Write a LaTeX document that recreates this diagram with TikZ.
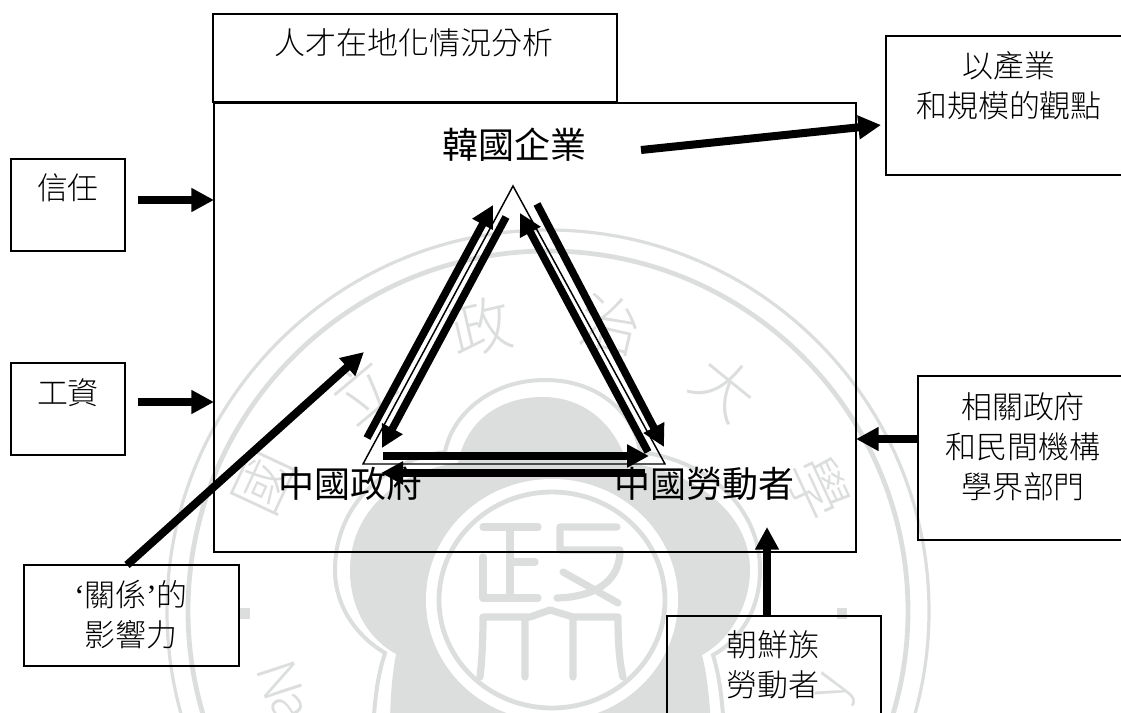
\documentclass[tikz,border=0pt]{standalone}
\usepackage{fontspec}
\usetikzlibrary{arrows.meta}
\newfontfamily\cjk[UprightFont=* Light,BoldFont=*]{Noto Sans CJK TC}
\newfontfamily\cjkbig{Noto Sans CJK TC}
\newfontfamily\latq{Liberation Serif}
\definecolor{wm}{HTML}{DCDEDD}
\tikzset{
  boxn/.style={draw=black,line width=1.2pt,inner sep=0pt,outer sep=0pt},
  lab/.style={inner sep=0pt,align=center,font=\cjk\fontsize{23.2pt}{30pt}\selectfont},
  biglab/.style={inner sep=0pt,font=\cjkbig\fontsize{27pt}{30pt}\selectfont},
  bigarrow/.style={line width=6pt,-{Triangle[length=17pt,width=17pt]}},
  triarrow/.style={line width=5.7pt,-{Triangle[length=16.5pt,width=16.5pt]}},
  wmtxt/.style={inner sep=0pt,text=wm,font=\cjk\fontsize{46pt}{46pt}\selectfont},
  wmlat/.style={inner sep=0pt,text=wm,font=\cjk\fontsize{40pt}{40pt}\selectfont},
  wmline/.style={draw=wm,line width=5.4pt,line cap=round,line join=round},
}
\newcommand\pxbox[5]{\node[boxn,minimum width={(#4-#2)*0.75pt},minimum height={(#5-#3)*0.75pt}] (#1) at ({(#2+#4)/2},{(#3+#5)/2}) {};}
\begin{document}
\begin{tikzpicture}[x=0.75pt,y=-0.75pt]
\useasboundingbox (0,0) rectangle (1121,713);
\clip (0,0) rectangle (1121,713);
\fill[white] (0,0) rectangle (1121,713);
% watermark
\draw[wm,line width=2.4pt] (548,611) circle [radius=381];
\draw[wm,line width=3.6pt] (548,611) circle [radius=360];
\draw[wm,line width=3pt] (545,380) .. controls (490,380) and (452,415) .. (445,452)
  .. controls (385,460) and (335,505) .. (335,570)
  .. controls (335,605) and (355,635) .. (385,653)
  .. controls (378,675) and (375,695) .. (373,730)
  -- (724,730) .. controls (722,695) and (719,675) .. (713,655)
  .. controls (740,640) and (760,610) .. (760,570)
  .. controls (760,505) and (705,460) .. (640,452)
  .. controls (635,415) and (600,380) .. (545,380) -- cycle;
\fill[wm] (543,397) .. controls (495,397) and (465,425) .. (458,463)
  .. controls (400,470) and (350,510) .. (350,570)
  .. controls (350,610) and (370,640) .. (396,654)
  .. controls (392,675) and (390,700) .. (390,730)
  -- (711,730) .. controls (710,700) and (707,675) .. (702,655)
  .. controls (730,640) and (750,605) .. (750,570)
  .. controls (750,510) and (690,470) .. (627,463)
  .. controls (615,425) and (585,397) .. (543,397) -- cycle;
\fill[white] (552,600) ellipse [x radius=126,y radius=121];
\draw[wm,line width=3.6pt] (552,600) ellipse [x radius=113,y radius=108];
\fill[wm] (240,608) rectangle (250,619);
\fill[wm] (837,608) rectangle (847,619);
\node[wmtxt,rotate=65] (w1) at (265,483) {國};
\node[wmtxt,rotate=40] (w2) at (362,390) {立};
\node[wmtxt,rotate=13] (w3) at (481,327) {政};
\node[wmtxt,rotate=-13] (w4) at (611,325) {治};
\node[wmtxt,rotate=-39] (w5) at (725,388) {大};
\node[wmtxt,rotate=-65] (w6) at (818,488) {學};
\node[wmlat,rotate=-72] (w7) at (280,680) {N};
\node[wmlat,rotate=-65] (w8) at (288,708) {a};
\node[wmlat,rotate=72] (w9) at (838,690) {y};
% stylised seal glyph
\draw[wmline] (483,527) -- (538,527) (510,527) -- (510,598) (510,562) -- (535,562)
  (483,557) -- (483,598) -- (538,598);
\draw[wmline] (560,527) -- (617,527) (560,527) -- (560,550) -- (620,550)
  .. controls (620,585) and (590,597) .. (557,598) (563,572) -- (618,603);
\draw[wmline] (483,617) -- (530,617) -- (550,610) -- (573,617) -- (618,617)
  .. controls (618,640) and (619,660) .. (623,677)
  (483,617) .. controls (483,640) and (482,660) .. (480,677)
  (525,617) -- (525,677) (573,617) -- (573,677);
% boxes
\pxbox{main}{214}{103}{856}{552}
\pxbox{topb}{213}{14}{617}{102}
\pxbox{trb}{886}{36}{1135}{175}
\pxbox{rb}{918}{376}{1135}{540}
\pxbox{xinb}{11}{159}{125}{251}
\pxbox{gzb}{11}{363}{125}{455}
\pxbox{gxb}{24}{565}{239}{666}
\pxbox{cxb}{667}{616}{881}{730}
% triangle
\coordinate (ta) at (513,186);
\coordinate (tl) at (363,464);
\coordinate (tr) at (665,464);
\draw[line width=1.1pt,line join=miter] (ta) -- (tl) -- (tr) -- cycle;
% labels
\node[lab] (t1) at (414,43) {人才在地化情況分析};
\node[lab] (t2) at (1009,86) {以產業\\和規模的觀點};
\node[lab] (t3) at (68,188) {信任};
\node[lab] (t4) at (68,393) {工資};
\node[lab] (t5) at (1023,447) {相關政府\\和民間機構\\學界部門};
\node[lab] (t6) at (131,615) {{\latq ‘}關係{\latq ’}的\\影響力};
\node[lab] (t7) at (773,665) {朝鮮族\\勞動者};
\node[biglab] (n1) at (514,145) {韓國企業};
\node[biglab] (n2) at (350,484) {中國政府};
\node[biglab] (n3) at (704,484) {中國勞動者};
% outer arrows
\coordinate (a1s) at (138,200); \coordinate (a1e) at (main.west |- a1s);
\draw[bigarrow] (a1s) -- (a1e);
\coordinate (a2s) at (138,402); \coordinate (a2e) at (main.west |- a2s);
\draw[bigarrow] (a2s) -- (a2e);
\coordinate (a3s) at (641,150); \coordinate (a3e) at (881,125);
\draw[bigarrow] (a3s) -- (a3e);
\coordinate (a4e) at (856,439);
\draw[bigarrow] (rb.west |- a4e) -- (a4e);
\coordinate (a5e) at (767,527);
\draw[bigarrow] (a5e |- cxb.north) -- (a5e);
\coordinate (a6s) at (127,565); \coordinate (a6e) at (364,352);
\draw[bigarrow] (a6s) -- (a6e);
% triangle arrows
\coordinate (b1s) at (367,438); \coordinate (b1e) at (493,205);
\draw[triarrow] (b1s) -- (b1e);
\coordinate (b2s) at (506,217); \coordinate (b2e) at (382,448);
\draw[triarrow] (b2s) -- (b2e);
\coordinate (b3s) at (537,204); \coordinate (b3e) at (664,447);
\draw[triarrow] (b3s) -- (b3e);
\coordinate (b4s) at (648,452); \coordinate (b4e) at (520,213);
\draw[triarrow] (b4s) -- (b4e);
\coordinate (b5s) at (383,456); \coordinate (b5e) at (649,456);
\draw[triarrow] (b5s) -- (b5e);
\coordinate (b6s) at (645,473); \coordinate (b6e) at (381,473);
\draw[triarrow] (b6s) -- (b6e);
\end{tikzpicture}
\end{document}
